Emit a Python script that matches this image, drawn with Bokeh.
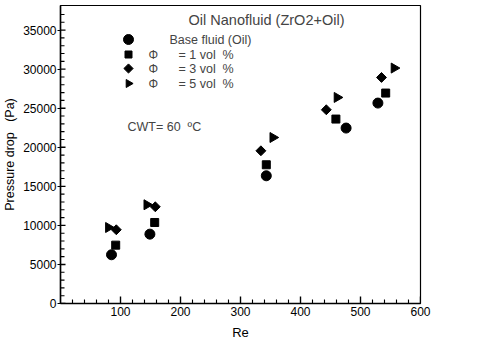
import math
from bokeh.plotting import figure
from bokeh.models import FixedTicker, Label, Range1d
from bokeh.embed import file_html
from bokeh.resources import INLINE

# Data (Re, pressure drop in Pa)
re_base = [85, 149, 343, 476, 529]
dp_base = [6240, 8880, 16350, 22460, 25660]
re_1 = [92, 157, 343, 459, 542]
dp_1 = [7470, 10370, 17760, 23610, 26940]
re_3 = [93, 158, 334, 443, 535]
dp_3 = [9440, 12380, 19550, 24800, 28940]
re_5 = [80, 144, 354, 461, 556]
dp_5 = [9730, 12640, 21250, 26380, 30140]

x_ticks = [100, 200, 300, 400, 500, 600]
x_minor = [v for v in range(20, 600, 20) if v % 100 != 0]
y_ticks = [0, 5000, 10000, 15000, 20000, 25000, 30000, 35000]
y_minor = [v for v in range(1000, 38000, 1000) if v % 5000 != 0]

legend_names = ["Base fluid (Oil)", "= 1 vol\u00a0\u00a0%", "= 3 vol\u00a0\u00a0%", "= 5 vol\u00a0\u00a0%"]
phi_symbol = "\u03a6"

FONT = "Liberation Sans"
X0, X1 = 0, 600
Y0, Y1 = 0, 38150
FW, FH = 360, 298

p = figure(
    frame_width=FW, frame_height=FH,
    x_range=Range1d(X0, X1), y_range=Range1d(Y0, Y1),
    output_backend="svg", toolbar_location=None,
    min_border_left=54, min_border_top=5, min_border_right=22,
)
p.grid.visible = False
p.outline_line_color = "black"
p.outline_line_width = 1.2

xa = p.xaxis[0]
xa.ticker = FixedTicker(ticks=x_ticks, minor_ticks=x_minor)
xa.axis_label = "Re"
ya = p.yaxis[0]
ya.ticker = FixedTicker(ticks=y_ticks, minor_ticks=y_minor)
ya.axis_label = "Pressure drop\u00a0\u00a0\u00a0(Pa)"

for ax in (xa, ya):
    ax.axis_line_color = "black"
    ax.axis_line_width = 1.5
    ax.major_tick_line_color = "black"
    ax.minor_tick_line_color = "black"
    ax.major_label_text_font = FONT
    ax.major_label_text_font_size = "12px"
    ax.major_label_text_color = "black"
    ax.axis_label_text_font = FONT
    ax.axis_label_text_font_style = "normal"
    ax.axis_label_text_color = "black"

xa.major_tick_in = 0
xa.major_tick_out = 0
xa.minor_tick_in = 0
xa.minor_tick_out = 0
xa.major_label_standoff = 3
xa.axis_label_standoff = 6
xa.axis_label_text_font_size = "13px"

ya.major_tick_in = 0
ya.major_tick_out = 3
ya.minor_tick_in = 0
ya.minor_tick_out = 0
ya.major_label_standoff = 1
ya.axis_label_standoff = 3
ya.axis_label_text_font_size = "12.5px"

# pixel -> data helpers for layout lengths
def px_to_x(px):
    return X0 + px / FW * (X1 - X0)

def px_to_y(py):
    return Y0 + py / FH * (Y1 - Y0)

# inward tick marks drawn as thin filled bars from the tick arrays
hw_x = px_to_x(0.7) - X0
hw_y = px_to_y(0.7) - Y0
p.quad(left=[v - hw_x for v in x_ticks], right=[v + hw_x for v in x_ticks],
       bottom=[Y0] * len(x_ticks), top=[px_to_y(7)] * len(x_ticks),
       fill_color="black", line_color=None)
p.quad(left=[v - hw_x * 0.8 for v in x_minor], right=[v + hw_x * 0.8 for v in x_minor],
       bottom=[Y0] * len(x_minor), top=[px_to_y(4)] * len(x_minor),
       fill_color="black", line_color=None)
p.quad(left=[X0] * len(y_ticks), right=[px_to_x(5)] * len(y_ticks),
       bottom=[v - hw_y for v in y_ticks], top=[v + hw_y for v in y_ticks],
       fill_color="black", line_color=None)
p.quad(left=[X0] * len(y_minor), right=[px_to_x(4)] * len(y_minor),
       bottom=[v - hw_y * 0.8 for v in y_minor], top=[v + hw_y * 0.8 for v in y_minor],
       fill_color="black", line_color=None)

p.scatter(re_base, dp_base, marker="circle", size=10, color="black")
p.scatter(re_1, dp_1, marker="square", size=8, color="black")
p.scatter(re_3, dp_3, marker="square", size=7, angle=math.pi / 4, color="black")
p.scatter(re_5, dp_5, marker="triangle", size=10, angle=-math.pi / 2, color="black")

# --- legend (keys + labels), laid out in frame pixels ---
key_px_x = 68
row_px_y = [264, 249, 235, 220]   # from frame bottom
key_specs = [
    dict(marker="circle", size=10, angle=0),
    dict(marker="square", size=7, angle=0),
    dict(marker="square", size=6.5, angle=math.pi / 4),
    dict(marker="triangle", size=8, angle=-math.pi / 2),
]
for spec, ry in zip(key_specs, row_px_y):
    p.scatter([px_to_x(key_px_x)], [px_to_y(ry)], color="black", **spec)

for i, (name, ry) in enumerate(zip(legend_names, row_px_y)):
    if i == 0:
        p.add_layout(Label(x=109, y=ry, x_units="screen", y_units="screen", text=name,
                           text_baseline="middle", text_font=FONT, text_font_size="12.5px"))
    else:
        p.add_layout(Label(x=88, y=ry, x_units="screen", y_units="screen", text=phi_symbol,
                           text_baseline="middle", text_font=FONT, text_font_size="12px"))
        p.add_layout(Label(x=118, y=ry, x_units="screen", y_units="screen", text=name,
                           text_baseline="middle", text_font=FONT, text_font_size="12.5px"))

p.add_layout(Label(x=206, y=284, x_units="screen", y_units="screen",
                   text="Oil Nanofluid (ZrO2+Oil)", text_align="center",
                   text_baseline="middle", text_font=FONT, text_font_size="14.5px"))
p.add_layout(Label(x=67, y=177, x_units="screen", y_units="screen",
                   text="CWT= 60\u00a0\u00a0\u00baC", text_align="left",
                   text_baseline="middle", text_font=FONT, text_font_size="12.5px"))

open("out.html", "w").write(file_html(p, INLINE))
